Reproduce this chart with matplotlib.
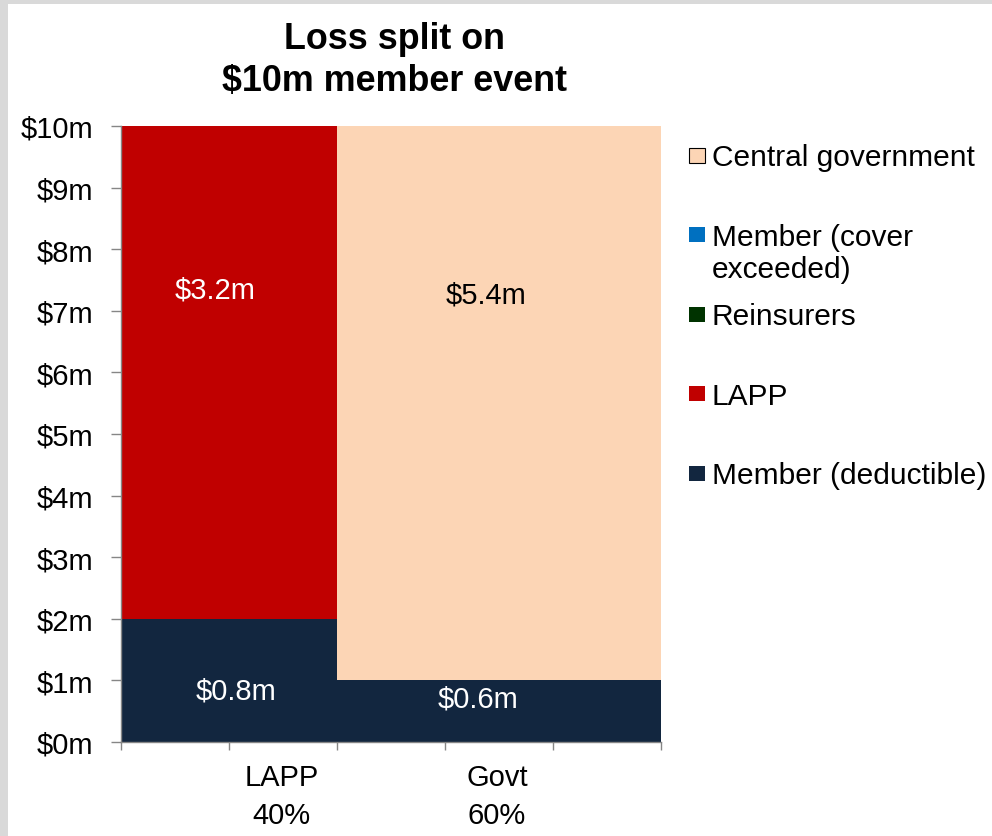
import numpy as np
import matplotlib
matplotlib.use("Agg")
import matplotlib.pyplot as plt
from matplotlib.patches import Rectangle

plt.rcParams['font.family'] = ['Liberation Sans', 'DejaVu Sans']

# columns of the marimekko: name and share of total (%)
categories = ['LAPP', 'Govt']
shares = [40, 60]

# stacked segments, bottom to top ($m per unit of column)
series_names = ['Member (deductible)', 'LAPP', 'Reinsurers',
                'Member (cover exceeded)', 'Central government']
deductible = [2, 1]
lapp = [8, 0]
reinsurers = [0, 0]
cover_exceeded = [0, 0]
central_gov = [0, 9]
series_values = [deductible, lapp, reinsurers, cover_exceeded, central_gov]
series_colors = ['#12263F', '#C00000', '#003300', '#0070C0', '#FCD5B5']
label_colors = ['white', 'white', 'white', 'white', 'black']

# where the value labels sit (x offset from column centre in %, y in $m)
label_pos = {
    ('LAPP', 'Member (deductible)'): (1.3, 0.84),
    ('LAPP', 'LAPP'): (-2.6, 7.35),
    ('Govt', 'Member (deductible)'): (-3.9, 0.71),
    ('Govt', 'Central government'): (-2.4, 7.26),
}

FS = 21

fig = plt.figure(figsize=(9.92, 8.37), dpi=100, facecolor='#D9D9D9')
fig.patches.append(Rectangle((8 / 992, 0), 1, 1 - 5 / 837, transform=fig.transFigure,
                             facecolor='white', edgecolor='none', zorder=-10))

ax = fig.add_axes([121 / 992, 1 - 743 / 837, 540 / 992, 616 / 837])
ax.set_facecolor('none')

lefts = np.concatenate([[0], np.cumsum(shares)[:-1]])
bottoms = np.zeros(len(categories))
for name, vals, col, lcol in zip(series_names, series_values, series_colors, label_colors):
    vals = np.array(vals, dtype=float)
    ax.bar(lefts, vals, width=shares, bottom=bottoms, align='edge',
           color=col, edgecolor='none', linewidth=0, label=name)
    for i, cat in enumerate(categories):
        if vals[i] > 0 and (cat, name) in label_pos:
            dx, y = label_pos[(cat, name)]
            amount = vals[i] * shares[i] / 100
            ax.text(lefts[i] + shares[i] / 2 + dx, y, f"${amount:.1f}m",
                    ha='center', va='center', color=lcol, fontsize=FS)
    bottoms += vals

ax.set_xlim(0, 100)
ax.set_ylim(0, 10)
ax.set_yticks(range(0, 11))
ax.set_yticklabels([f"${v}m" for v in range(0, 11)])
ax.set_xticks(range(0, 101, 20))
ax.set_xticklabels([])
for side in ['top', 'right']:
    ax.spines[side].set_visible(False)
for side in ['left', 'bottom']:
    ax.spines[side].set_color('#868686')
    ax.spines[side].set_linewidth(1)
ax.tick_params(axis='both', color='#868686', width=1)
ax.tick_params(axis='y', length=7, labelsize=FS, pad=13)
ax.tick_params(axis='x', length=5.5)

# category labels under the axis
cat_label_x = [29.8, 69.6]
for cat, share, x in zip(categories, shares, cat_label_x):
    ax.text(x, -0.877, f"{cat}\n{share}%", ha='center', va='center', fontsize=FS,
            linespacing=1.43)

fig.text(394.5 / 992, 1 - 60.5 / 837, "Loss split on\n$10m member event", ha='center',
         va='center', fontsize=25.8, fontweight='bold', linespacing=1.28)

# legend drawn as boxes + text, top entry first
legend_names = series_names[::-1]
legend_colors = series_colors[::-1]
for k, (name, col) in enumerate(zip(legend_names, legend_colors)):
    yc = 156 + k * 79.5
    edge = 'black' if name == 'Central government' else 'none'
    fig.patches.append(Rectangle((689 / 992, 1 - (yc + 7.5) / 837), 16 / 992, 15 / 837,
                                 transform=fig.transFigure, facecolor=col,
                                 edgecolor=edge, linewidth=0.8))
    lines = name.replace('(cover exceeded)', '(cover\nexceeded)').split('\n')
    for j, line in enumerate(lines):
        fig.text(712 / 992, 1 - (yc + 10.5 + j * 32.5) / 837, line, ha='left',
                 va='baseline', fontsize=21.5)

fig.savefig('out.png', dpi=100, facecolor=fig.get_facecolor())
